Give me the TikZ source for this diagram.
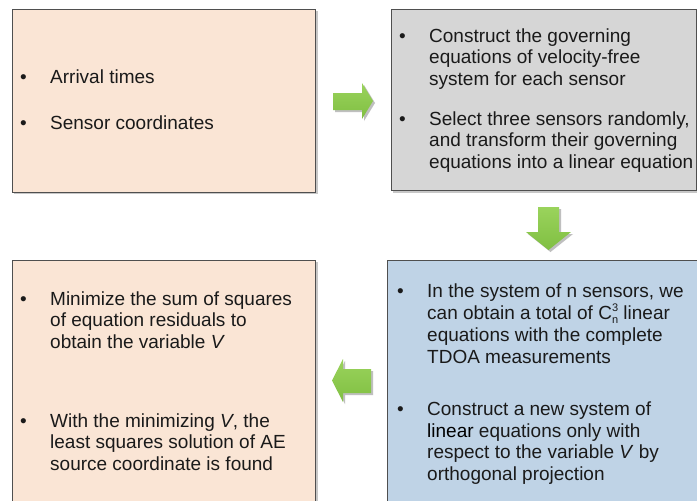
\documentclass[tikz,border=0pt]{standalone}
\usepackage{fontspec}
\setmainfont{Liberation Sans}
\definecolor{peach}{HTML}{FAE5D5}
\definecolor{greybox}{HTML}{D6D6D6}
\definecolor{bluebox}{HTML}{BFD3E6}
\definecolor{boxedge}{HTML}{4F4F4F}
\definecolor{textc}{HTML}{1A1A1A}
\definecolor{arrowtop}{HTML}{9AD35C}
\definecolor{arrowbot}{HTML}{80BF42}
\newcommand{\bul}{\makebox[30pt][l]{\textbullet}}
% binomial-count symbol C with stacked sub- and superscript
\newcommand{\Cnthree}{C\raisebox{-4pt}{\fontsize{11}{11.5}\selectfont
  \begin{tabular}[b]{@{}l@{}}3\\n\end{tabular}}}
\begin{document}
\begin{tikzpicture}[x=1pt,y=-1pt,
  panel/.style={draw=boxedge,line width=1pt},
  panelshadow/.style={fill=black!22},
  item/.style={anchor=base west,inner sep=0pt,text=textc,
    font=\fontsize{19}{21.7}\selectfont},
  blockarrow/.style={top color=arrowtop,bottom color=arrowbot,draw=none},
  arrowshadow/.style={fill=black!25}]
\useasboundingbox (0,0) rectangle (697,501);
\clip (0,0) rectangle (697,501);
\fill[white] (0,0) rectangle (697,501);

% panels with soft drop shadows
\fill[panelshadow] (13.5,11) rectangle (317.5,194);
\fill[panelshadow] (393,11) rectangle (699,193);
\fill[panelshadow] (389,262) rectangle (703,506);
\fill[panelshadow] (13.5,262) rectangle (317.5,506);
\draw[panel,fill=peach]    (12,9.5)  rectangle (315.5,192);
\draw[panel,fill=greybox]  (391.5,9.5) rectangle (696,190.5);
\draw[panel,fill=bluebox]  (387.5,260) rectangle (702,505);
\draw[panel,fill=peach]    (12,260)  rectangle (315.5,505);

% input data
\node[item] (in1) at (20,83) {\bul Arrival times};
\node[item] (in2) at (20,129) {\bul Sensor coordinates};

% governing equations
\node[item] (ge1) at (399,42) {\begin{tabular}[t]{@{}l@{}l@{}}
\bul & Construct the governing\\
& equations of velocity-free\\
& system for each sensor\end{tabular}};
\node[item] (ge2) at (399,125) {\begin{tabular}[t]{@{}l@{}l@{}}
\bul & Select three sensors randomly,\\
& and transform their governing\\
& equations into a linear equation\end{tabular}};

% linear system
\node[item] (ls1) at (397,297) {\begin{tabular}[t]{@{}l@{}l@{}}
\bul & In the system of n sensors, we\\
& can obtain a total of \Cnthree{} linear\\
& equations with the complete\\
& TDOA measurements\end{tabular}};
\node[item] (ls2) at (397,415.5) {\begin{tabular}[t]{@{}l@{}l@{}}
\bul & Construct a new system of\\
& {\color{black}linear} equations only with\\
& respect to the variable \textit{V} by\\
& orthogonal projection\end{tabular}};

% least squares
\node[item] (lq1) at (20,305) {\begin{tabular}[t]{@{}l@{}l@{}}
\bul & Minimize the sum of squares\\
& of equation residuals to\\
& obtain the variable \textit{V}\end{tabular}};
\node[item] (lq2) at (20,427) {\begin{tabular}[t]{@{}l@{}l@{}}
\bul & With the minimizing \textit{V}, the\\
& least squares solution of AE\\
& source coordinate is found\end{tabular}};

% block arrows between the panels
\fill[arrowshadow] (335,95) -- (364,95) -- (364,85) -- (375,103) -- (364,121) -- (364,112) -- (335,112) -- cycle;
\path[blockarrow] (333,93) -- (362,93) -- (362,83) -- (373,101) -- (362,119) -- (362,110) -- (333,110) -- cycle;

\fill[arrowshadow] (540,209) -- (561,209) -- (561,234) -- (573,234) -- (550.5,252) -- (528,234) -- (540,234) -- cycle;
\path[blockarrow] (538,207) -- (559,207) -- (559,232) -- (571,232) -- (548.5,250) -- (526,232) -- (538,232) -- cycle;

\fill[arrowshadow] (373,371) -- (345,371) -- (345,361) -- (334,382.5) -- (345,404) -- (345,395) -- (373,395) -- cycle;
\path[blockarrow] (371,369) -- (343,369) -- (343,359) -- (332,380.5) -- (343,402) -- (343,393) -- (371,393) -- cycle;
\end{tikzpicture}
\end{document}
